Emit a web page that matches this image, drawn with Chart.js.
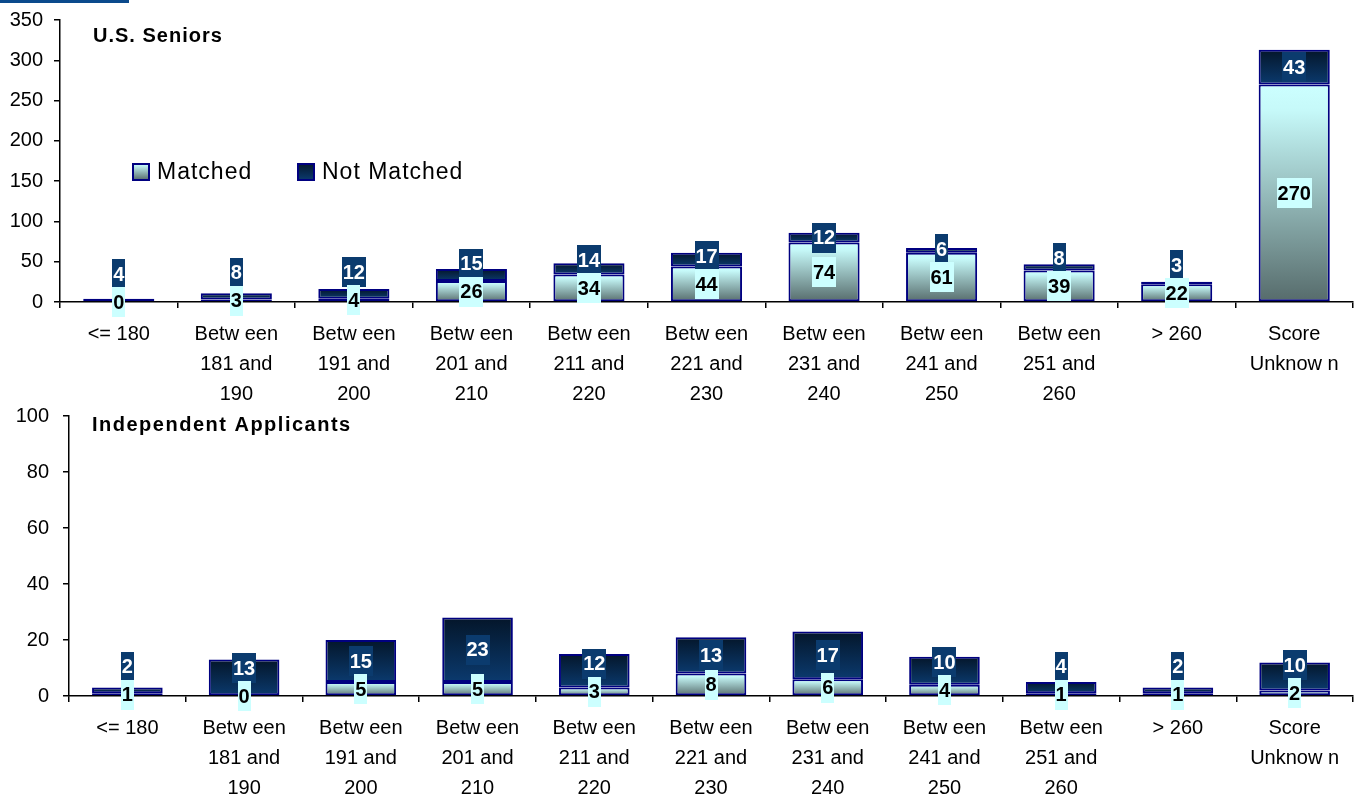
<!DOCTYPE html>
<html>
<head>
<meta charset="utf-8">
<script src="https://cdn.jsdelivr.net/npm/chart.js@4/dist/chart.umd.min.js"></script>
<style>
  html, body { margin: 0; padding: 0; background: #fff; width: 1359px; height: 798px; overflow: hidden; }
  #strip { position: absolute; left: 0; top: 0; width: 129px; height: 3px; background: #0b4a8c; z-index: 3; }
  .panel { position: absolute; left: 0; width: 1359px; }
  #topPanel { top: 0; height: 412px; z-index: 1; }
  #bottomPanel { top: 400px; height: 398px; z-index: 2; }
  canvas { display: block; }
</style>
</head>
<body>
<div id="strip"></div>
<div class="panel" id="topPanel"><canvas id="seniors" width="1359" height="412"></canvas></div>
<div class="panel" id="bottomPanel"><canvas id="independents" width="1359" height="398"></canvas></div>
<script>
// Score bands (multi-line axis labels)
const categories = [
  ['<= 180'],
  ['Betw een', '181 and', '190'],
  ['Betw een', '191 and', '200'],
  ['Betw een', '201 and', '210'],
  ['Betw een', '211 and', '220'],
  ['Betw een', '221 and', '230'],
  ['Betw een', '231 and', '240'],
  ['Betw een', '241 and', '250'],
  ['Betw een', '251 and', '260'],
  ['> 260'],
  ['Score', 'Unknow n']
];
const seriesNames = ['Matched', 'Not Matched'];

// U.S. Seniors
const seniorsMatched    = [0, 3, 4, 26, 34, 44, 74, 61, 39, 22, 270];
const seniorsNotMatched = [4, 8, 12, 15, 14, 17, 12, 6, 8, 3, 43];
const seniorsTicks = { max: 350, step: 50 };

// Independent Applicants
const independentMatched    = [1, 0, 5, 5, 3, 8, 6, 4, 1, 1, 2];
const independentNotMatched = [2, 13, 15, 23, 12, 13, 17, 10, 4, 2, 10];
const independentTicks = { max: 100, step: 20 };

const FONT = '"Liberation Sans", Arial, Helvetica, sans-serif';
const NAVY = '#000080';

function fillStops(g, kind) {
  if (kind === 0) {
    g.addColorStop(0, '#ccffff');
    g.addColorStop(0.12, '#c6f9f9');
    g.addColorStop(1, '#566b6b');
  } else {
    g.addColorStop(0, '#04162a');
    g.addColorStop(1, '#0b3a6e');
  }
  return g;
}

// Vertical gradient spanning each stacked segment
function segmentFill(kind) {
  return (ctx) => {
    const chart = ctx.chart;
    if (ctx.type !== 'data' || !chart.chartArea) return kind === 0 ? '#9fcfcf' : '#072a52';
    const ds = chart.data.datasets;
    const i = ctx.dataIndex;
    const base = kind === 0 ? 0 : ds[0].data[i];
    const top = base + ds[kind].data[i];
    const ys = chart.scales.y;
    const y0 = ys.getPixelForValue(top);
    const y1 = ys.getPixelForValue(base);
    if (!(y1 > y0)) return kind === 0 ? '#9fcfcf' : '#072a52';
    return fillStops(chart.ctx.createLinearGradient(0, y0, 0, y1), kind);
  };
}

function drawTag(ctx, text, x, y, bg, fg) {
  const w = Math.round(ctx.measureText(text).width + 2);
  ctx.fillStyle = bg;
  ctx.fillRect(Math.round(x - w / 2), Math.round(y - 15), w, 30);
  ctx.fillStyle = fg;
  ctx.fillText(text, x, y + 1);
}

// Value tags: Matched centred in its segment, Not Matched lifted clear of it
const valueTags = {
  id: 'valueTags',
  afterDatasetsDraw(chart) {
    const { ctx } = chart;
    const ys = chart.scales.y;
    const meta = chart.getDatasetMeta(0);
    const m = chart.data.datasets[0].data;
    const n = chart.data.datasets[1].data;
    ctx.save();
    ctx.font = 'bold 20px ' + FONT;
    ctx.textAlign = 'center';
    ctx.textBaseline = 'middle';
    m.forEach((mv, i) => {
      const x = meta.data[i].x;
      const my = ys.getPixelForValue(mv / 2);
      const ny = Math.min(ys.getPixelForValue(mv + n[i] / 2), my - 28);
      drawTag(ctx, String(n[i]), x, ny, '#0b3b6e', '#ffffff');
      drawTag(ctx, String(mv), x, my, '#ccffff', '#000000');
    });
    ctx.restore();
  }
};

// Panel caption and optional key
const panelText = {
  id: 'panelText',
  afterDraw(chart, args, opts) {
    const { ctx } = chart;
    ctx.save();
    ctx.fillStyle = '#000';
    ctx.textAlign = 'left';
    ctx.textBaseline = 'alphabetic';
    ctx.font = 'bold 20px ' + FONT;
    if ('letterSpacing' in ctx) ctx.letterSpacing = opts.titleSpacing + 'px';
    ctx.fillText(opts.title, opts.titleX, opts.titleY);
    if (opts.key) {
      ctx.font = '23px ' + FONT;
      if ('letterSpacing' in ctx) ctx.letterSpacing = '1px';
      opts.key.forEach((k, idx) => {
        const g = fillStops(ctx.createLinearGradient(0, k.y, 0, k.y + 17), idx);
        ctx.fillStyle = NAVY;
        ctx.fillRect(k.x, k.y, 18, 18);
        ctx.fillStyle = g;
        ctx.fillRect(k.x + 2, k.y + 2, 14, 14);
        ctx.fillStyle = '#000';
        ctx.fillText(chart.data.datasets[idx].label, k.x + 25, k.y + 16);
      });
    }
    ctx.restore();
  }
};

function makeChart(id, matched, notMatched, ticks, layout) {
  return new Chart(document.getElementById(id), {
    type: 'bar',
    data: {
      labels: categories,
      datasets: [
        { label: seriesNames[0], data: matched, backgroundColor: segmentFill(0),
          borderColor: NAVY, borderWidth: 2, borderSkipped: false,
          barPercentage: 0.605, categoryPercentage: 1 },
        { label: seriesNames[1], data: notMatched, backgroundColor: segmentFill(1),
          borderColor: NAVY, borderWidth: 2, borderSkipped: false,
          barPercentage: 0.605, categoryPercentage: 1 }
      ]
    },
    options: {
      responsive: false,
      animation: false,
      events: [],
      layout: { padding: { top: layout.top, right: layout.right, left: 0, bottom: 0 } },
      plugins: {
        legend: { display: false },
        tooltip: { enabled: false },
        panelText: layout.text
      },
      scales: {
        x: {
          stacked: true,
          grid: { offset: true, drawOnChartArea: false, color: '#000', lineWidth: 1.5, tickLength: 6 },
          border: { color: '#000', width: 1.5 },
          ticks: { color: '#000', font: { family: FONT, size: 20, lineHeight: 1.48 },
                   padding: 12, maxRotation: 0, minRotation: 0, autoSkip: false },
          afterFit(s) {
            s.height = layout.xh;
            s.paddingLeft = 0; s.paddingRight = 0;
          }
        },
        y: {
          stacked: true,
          min: 0,
          max: ticks.max,
          grid: { drawOnChartArea: false, color: '#000', lineWidth: 1.5, tickLength: 6 },
          border: { color: '#000', width: 1.5 },
          ticks: { stepSize: ticks.step, color: '#000', font: { family: FONT, size: 20 }, padding: layout.yPad },
          afterFit(s) {
            s.width = layout.yw;
            s.paddingTop = 0; s.paddingBottom = 0;
          }
        }
      }
    },
    plugins: [valueTags, panelText]
  });
}

makeChart('seniors', seniorsMatched, seniorsNotMatched, seniorsTicks, {
  top: 20, right: 6, xh: 110, yw: 60, yPad: 11,
  text: { title: 'U.S. Seniors', titleX: 93, titleY: 42, titleSpacing: 1,
          key: [{ x: 132, y: 163 }, { x: 297, y: 163 }] }
});

makeChart('independents', independentMatched, independentNotMatched, independentTicks, {
  top: 16, right: 6, xh: 102, yw: 69, yPad: 14,
  text: { title: 'Independent Applicants', titleX: 92, titleY: 31, titleSpacing: 1.5 }
});
</script>
</body>
</html>
